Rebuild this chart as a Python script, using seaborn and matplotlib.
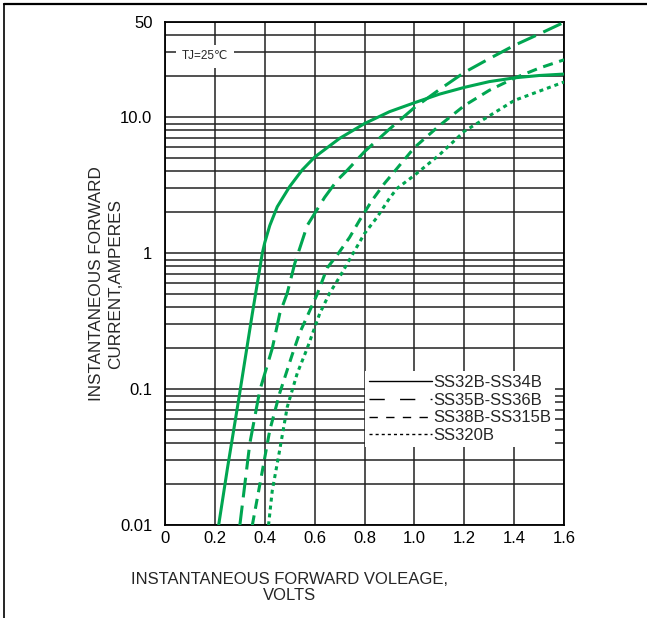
import matplotlib
matplotlib.use("Agg")
import matplotlib.pyplot as plt
from matplotlib.lines import Line2D
from matplotlib.ticker import LogLocator, NullFormatter, FixedLocator
import numpy as np
import pandas as pd
import seaborn as sns

# forward voltage (V) vs instantaneous forward current (A)
ss32_v = [0.215, 0.25, 0.30, 0.35, 0.39, 0.40, 0.42, 0.45, 0.5, 0.55, 0.6, 0.7, 0.8, 0.9, 1.0, 1.1, 1.2, 1.3, 1.4, 1.5, 1.6]
ss32_i = [0.01, 0.026, 0.095, 0.36, 1.0, 1.2, 1.6, 2.2, 3.1, 4.1, 5.1, 7.0, 9.0, 11.0, 12.8, 14.8, 16.6, 18.3, 19.5, 20.3, 20.8]

ss35_v = [0.30, 0.34, 0.38, 0.43, 0.46, 0.49, 0.52, 0.57, 0.64, 0.69, 0.73, 0.8, 0.9, 1.0, 1.1, 1.2, 1.3, 1.4, 1.5, 1.6]
ss35_i = [0.01, 0.04, 0.098, 0.2, 0.36, 0.51, 0.84, 1.6, 2.58, 3.44, 4.07, 5.6, 8.2, 11.8, 16.0, 21.4, 27.0, 33.8, 41.0, 50.0]

ss38_v = [0.35, 0.39, 0.42, 0.46, 0.51, 0.54, 0.61, 0.65, 0.69, 0.74, 0.78, 0.83, 0.88, 1.0, 1.1, 1.2, 1.3, 1.4, 1.5, 1.6]
ss38_i = [0.01, 0.025, 0.05, 0.094, 0.18, 0.26, 0.5, 0.78, 0.97, 1.31, 1.75, 2.45, 3.27, 6.0, 8.7, 12.2, 15.8, 19.4, 23.0, 26.5]

ss320_v = [0.415, 0.43, 0.46, 0.49, 0.53, 0.57, 0.62, 0.66, 0.70, 0.75, 0.80, 0.85, 0.9, 0.93, 1.0, 1.1, 1.2, 1.4, 1.6]
ss320_i = [0.01, 0.018, 0.036, 0.074, 0.131, 0.2, 0.36, 0.51, 0.67, 0.97, 1.40, 1.84, 2.54, 3.0, 3.75, 5.3, 7.9, 13.3, 18.2]

series_labels = ["SS32B-SS34B", "SS35B-SS36B", "SS38B-SS315B", "SS320B"]
x_ticks = [0, 0.2, 0.4, 0.6, 0.8, 1.0, 1.2, 1.4, 1.6]
x_tick_labels = ["0", "0.2", "0.4", "0.6", "0.8", "1.0", "1.2", "1.4", "1.6"]
y_ticks = [0.01, 0.1, 1, 10, 50]
y_tick_labels = ["0.01", "0.1", "1", "10.0", "50"]

sns.set_style("white")
plt.rcParams["font.family"] = ["Liberation Sans", "DejaVu Sans"]

GREEN = "#00a651"
GRID = "#222222"

fig = plt.figure(figsize=(6.47, 6.18), dpi=100)
ax = fig.add_axes([0.255, 0.150, 0.617, 0.814])

curves = [
    (ss32_v, ss32_i, "-"),
    (ss35_v, ss35_i, (0, (6.5, 2.7))),
    (ss38_v, ss38_i, (0, (3.3, 2.2))),
    (ss320_v, ss320_i, (0, (1.3, 1.3))),
]
for v, i, ls in curves:
    df = pd.DataFrame({"v": v, "i": i})
    sns.lineplot(data=df, x="v", y="i", ax=ax, color=GREEN, linewidth=2.2,
                 linestyle=ls, zorder=3, legend=False)

ax.set_yscale("log")
ax.set_xlim(0, 1.6)
ax.set_ylim(0.01, 50)

ax.xaxis.set_major_locator(FixedLocator(x_ticks))
ax.set_xticklabels(x_tick_labels)
ax.yaxis.set_major_locator(FixedLocator(y_ticks))
ax.set_yticklabels(y_tick_labels)
ax.yaxis.set_minor_locator(LogLocator(base=10, subs=np.arange(2, 10)))
ax.yaxis.set_minor_formatter(NullFormatter())

ax.grid(True, which="major", color=GRID, linewidth=1.1)
ax.grid(True, which="minor", axis="y", color=GRID, linewidth=1.1)
ax.tick_params(axis="both", which="both", length=0, labelsize=12, colors="black")
ax.tick_params(axis="y", pad=9)
ax.tick_params(axis="x", pad=4)
for s in ax.spines.values():
    s.set_color("black")
    s.set_linewidth(1.3)

ax.set_xlabel("INSTANTANEOUS FORWARD VOLEAGE,\nVOLTS", fontsize=12, linespacing=1.1)
ax.xaxis.set_label_coords(0.311, -0.093)
ax.set_ylabel("INSTANTANEOUS FORWARD\nCURRENT,AMPERES", fontsize=12.3, linespacing=1.3)
ax.yaxis.set_label_coords(-0.105, 0.48)

ax.text(0.16, 28, "TJ=25\u2103", fontsize=8.5, ha="center", va="center", zorder=4,
        bbox=dict(boxstyle="square,pad=0.5", facecolor="white", edgecolor="none"))

handles = [
    Line2D([], [], color="black", lw=1.0, linestyle="-"),
    Line2D([], [], color="black", lw=1.0, linestyle=(0, (11, 11))),
    Line2D([], [], color="black", lw=1.0, linestyle=(0, (6, 6))),
    Line2D([], [], color="black", lw=1.0, linestyle=(0, (2.2, 2.2))),
]
leg = ax.legend(handles, series_labels, loc="upper right", bbox_to_anchor=(0.977, 0.306),
                fontsize=12, frameon=True, facecolor="white", edgecolor="none", framealpha=1,
                handlelength=3.8, handletextpad=0.1, labelspacing=0.17, borderpad=0.2,
                borderaxespad=0, fancybox=False)
leg.set_zorder(5)

# outer frame of the datasheet figure (left and top edges only)
fig.add_artist(Line2D([3.5 / 647, 3.5 / 647], [0, 1 - 4 / 618], color="black", lw=1.2,
                      transform=fig.transFigure))
fig.add_artist(Line2D([3.5 / 647, 1], [1 - 4 / 618, 1 - 4 / 618], color="black", lw=1.6,
                      transform=fig.transFigure))

fig.savefig("out.png", dpi=100)
